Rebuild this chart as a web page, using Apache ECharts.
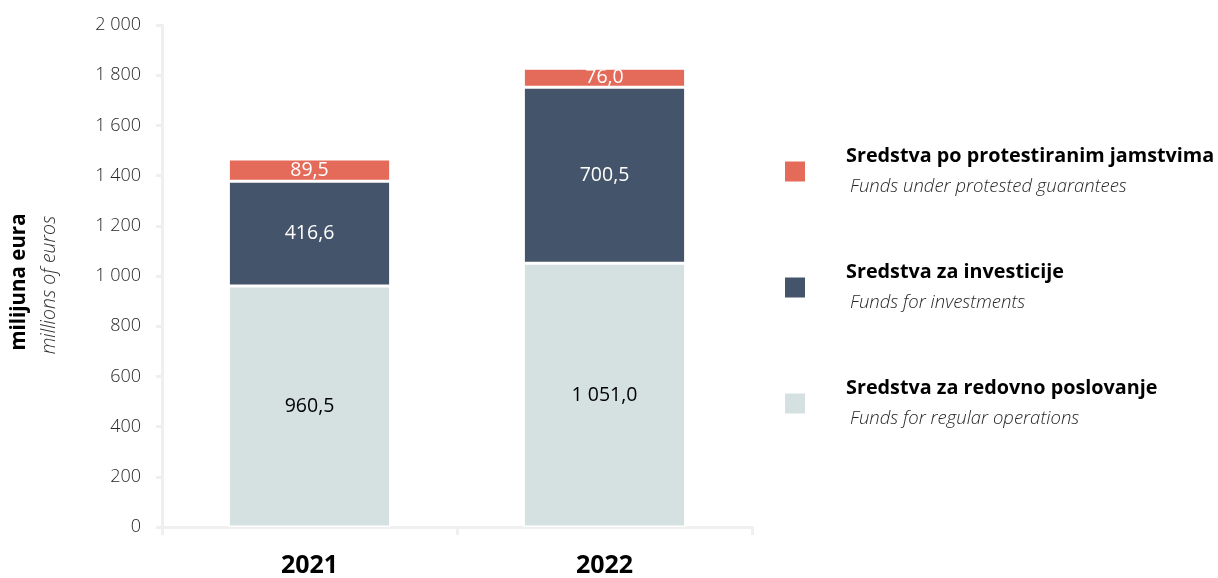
<!DOCTYPE html>
<html><head><meta charset="utf-8">
<script src="https://cdn.jsdelivr.net/npm/echarts@6/dist/echarts.min.js"></script>
<style>html,body{margin:0;padding:0;background:#fff}#c{width:1218px;height:578px}</style>
</head><body><div id="c"></div>
<script>
const categories = ['2021', '2022'];
const regular = [960.5, 1051.0];
const investments = [416.6, 700.5];
const protested = [89.5, 76.0];
const seriesNames = ['Sredstva za redovno poslovanje', 'Sredstva za investicije', 'Sredstva po protestiranim jamstvima'];
const seriesSubs = ['Funds for regular operations', 'Funds for investments', 'Funds under protested guarantees'];
const axisTitle = 'milijuna eura';
const axisSubtitle = 'millions of euros';

const FONT = '"Open Sans", "Noto Sans", sans-serif';
function fmtNum(v, dec) {
  const s = v.toFixed(dec);
  const parts = s.split('.');
  const intp = parts[0].replace(/\B(?=(\d{3})+(?!\d))/g, ' ');
  return parts.length > 1 ? intp + ',' + parts[1] : intp;
}
const subMap = {};
seriesNames.forEach((n, i) => subMap[n] = seriesSubs[i]);

const chart = echarts.init(document.getElementById('c'));
function mkSeries(name, data, color, labelColor) {
  return {
    name: name, type: 'bar', stack: 'a', data: data, barWidth: '55%',
    itemStyle: { color: color, borderColor: '#ffffff', borderWidth: 1.5 },
    label: { show: true, position: 'inside', color: labelColor, fontFamily: FONT, fontSize: 19.5,
      formatter: p => fmtNum(p.value, 1) }
  };
}
chart.setOption({
  animation: false,
  grid: { left: 162, right: 466, top: 25, bottom: 49 },
  xAxis: {
    type: 'category', data: categories,
    axisLine: { lineStyle: { color: '#efefef', width: 3 } },
    axisTick: { show: true, length: 8, lineStyle: { color: '#efefef', width: 3 } },
    axisLabel: { color: '#000', fontFamily: FONT, fontWeight: 'bold', fontSize: 25, margin: 26 }
  },
  yAxis: {
    type: 'value', min: 0, max: 2000, interval: 200,
    axisLine: { show: true, lineStyle: { color: '#efefef', width: 3 } },
    axisTick: { show: true, length: 6, lineStyle: { color: '#efefef', width: 3 } },
    splitLine: { show: false },
    axisLabel: { color: '#262626', fontFamily: FONT, fontWeight: 300, fontSize: 18, margin: 21,
      formatter: v => fmtNum(v, 0) }
  },
  legend: {
    orient: 'vertical', left: 778, top: 141, itemWidth: 22, itemHeight: 22, itemGap: 65.5,
    icon: 'rect',
    data: [seriesNames[2], seriesNames[1], seriesNames[0]],
    formatter: n => '{b|' + n + '}\n{i|' + subMap[n] + '}',
    textStyle: {
      padding: [0, 0, 0, 35],
      rich: {
        b: { fontFamily: FONT, fontWeight: 'bold', fontSize: 19.8, color: '#000', lineHeight: 31 },
        i: { fontFamily: FONT, fontStyle: 'italic', fontWeight: 300, fontSize: 18.5, color: '#262626', lineHeight: 31, padding: [0, 0, 0, 4] }
      }
    }
  },
  graphic: [
    { type: 'text', x: 19, y: 282, rotation: Math.PI / 2,
      style: { text: axisTitle, font: 'bold 20.5px "Open Sans", sans-serif', fill: '#000', textAlign: 'center', textVerticalAlign: 'middle' } },
    { type: 'text', x: 49, y: 285, rotation: Math.PI / 2,
      style: { text: axisSubtitle, font: 'italic 300 19.5px "Open Sans", sans-serif', fill: '#333', textAlign: 'center', textVerticalAlign: 'middle' } }
  ],
  series: [
    mkSeries(seriesNames[0], regular, '#d5e0e0', '#000'),
    mkSeries(seriesNames[1], investments, '#44546a', '#ffffff'),
    mkSeries(seriesNames[2], protested, '#e46b5a', '#ffffff')
  ]
});
</script></body></html>
